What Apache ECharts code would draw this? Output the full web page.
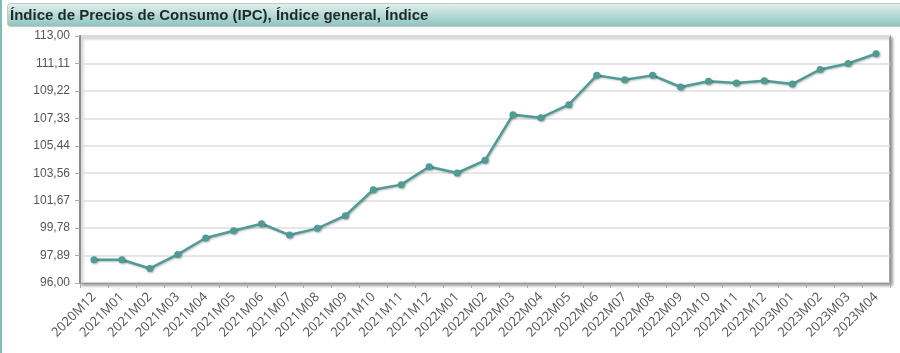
<!DOCTYPE html>
<html>
<head>
<meta charset="utf-8">
<script src="https://cdn.jsdelivr.net/npm/echarts@6/dist/echarts.min.js"></script>
<style>
  html, body { margin: 0; padding: 0; background: #fff; }
  #chart { width: 900px; height: 353px; }
</style>
</head>
<body>
<div id="chart"></div>
<script>
// periodos (eje x)
var periodos = ['2020M12', '2021M01', '2021M02', '2021M03', '2021M04', '2021M05', '2021M06',
    '2021M07', '2021M08', '2021M09', '2021M10', '2021M11', '2021M12', '2022M01', '2022M02',
    '2022M03', '2022M04', '2022M05', '2022M06', '2022M07', '2022M08', '2022M09', '2022M10',
    '2022M11', '2022M12', '2023M01', '2023M02', '2023M03', '2023M04'];

// valores del indice general
var valores = [97.60, 97.60, 97.00, 97.97, 99.10, 99.60, 100.08,
    99.30, 99.76, 100.63, 102.42, 102.77, 104.00, 103.57, 104.44,
    107.58, 107.38, 108.27, 110.29, 109.99, 110.29, 109.49, 109.88,
    109.76, 109.92, 109.69, 110.70, 111.11, 111.78];

var titulo = 'Índice de Precios de Consumo (IPC), Índice general, Índice';
var yMin = 96, yMax = 113, nDiv = 9;

var myChart = echarts.init(document.getElementById('chart'));

var option = {
    animation: false,
    graphic: [
        {   // barra lateral
            type: 'rect', left: 0, top: 0,
            shape: { width: 2, height: 353 },
            style: { fill: '#7fbdb5' }
        },
        {   // fondo del titulo
            type: 'rect', left: 7, top: 3,
            shape: { width: 900, height: 23, r: [3, 0, 0, 3] },
            style: {
                fill: new echarts.graphic.LinearGradient(0, 0, 0, 1, [
                    { offset: 0, color: '#e3f1ef' },
                    { offset: 1, color: '#8ac3bc' }
                ]),
                stroke: '#c8c8c8', lineWidth: 1
            },
            z: -1
        }
    ],
    title: {
        text: titulo,
        left: 5, top: 3,
        textStyle: {
            fontFamily: 'Liberation Sans',
            fontSize: 15, fontWeight: 'bold', color: '#1e2a28'
        }
    },
    grid: {
        left: 80, right: 10, top: 36, bottom: 70,
        show: true,
        backgroundColor: '#fff',
        borderColor: '#8a8a8a',
        borderWidth: 1.5,
        shadowColor: 'rgba(0,0,0,0.35)',
        shadowBlur: 3,
        shadowOffsetX: 2,
        shadowOffsetY: 2
    },
    xAxis: {
        type: 'category',
        data: periodos,
        boundaryGap: true,
        axisLine: { lineStyle: { color: '#999', width: 1 } },
        axisTick: { show: true, interval: 0, length: 5, lineStyle: { color: '#aaa' } },
        axisLabel: {
            interval: 0, rotate: 45, margin: 12,
            fontFamily: 'Open Sans', fontSize: 13, color: '#555'
        },
        splitLine: { show: false }
    },
    yAxis: {
        type: 'value',
        min: yMin, max: yMax,
        interval: (yMax - yMin) / nDiv,
        axisLine: { show: true, lineStyle: { color: '#8a8a8a', width: 2 } },
        axisTick: { show: true, length: 5, lineStyle: { color: '#aaa' } },
        axisLabel: {
            margin: 10,
            fontFamily: 'Liberation Sans', fontSize: 12, color: '#555',
            formatter: function (v) {
                return v.toFixed(2).replace('.', ',');
            }
        },
        splitLine: { lineStyle: { color: '#dedede', width: 1.5 } }
    },
    series: [{
        name: 'IPC',
        type: 'line',
        data: valores,
        symbol: 'circle',
        symbolSize: 7,
        itemStyle: {
            color: '#4e9c95',
            shadowColor: 'rgba(0,0,0,0.3)', shadowBlur: 2, shadowOffsetX: 1, shadowOffsetY: 1
        },
        lineStyle: {
            color: '#4e9c95', width: 2.5,
            shadowColor: 'rgba(0,0,0,0.25)', shadowBlur: 2, shadowOffsetX: 1, shadowOffsetY: 1
        }
    }]
};

myChart.setOption(option);
</script>
</body>
</html>
